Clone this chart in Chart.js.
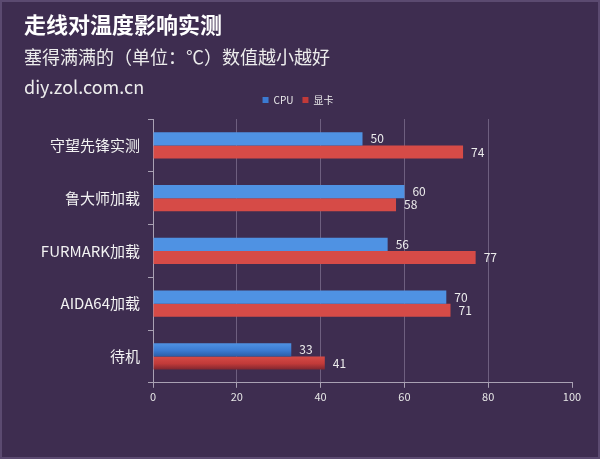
<!DOCTYPE html>
<html><head><meta charset="utf-8">
<script src="https://cdn.jsdelivr.net/npm/chart.js@4"></script>
<style>html,body{margin:0;padding:0;background:#3e2d50;}#wrap{width:600px;height:459px;}</style>
</head><body><div id="wrap"><canvas id="c" width="600" height="459"></canvas></div>
<script>
const categories = ['守望先锋实测', '鲁大师加载', 'FURMARK加载', 'AIDA64加载', '待机'];
const cpuValues = [50, 60, 56, 70, 33];
const gpuValues = [74, 58, 77, 71, 41];
const seriesNames = ['CPU', '显卡'];
const titleText = '走线对温度影响实测';
const subtitleLines = ['塞得满满的（单位：℃）数值越小越好', 'diy.zol.com.cn'];

const FONT = '"Noto Sans CJK SC", "Noto Sans", sans-serif';
const BG = '#3e2d50';

const gradStops = [
  ['#4f92e3', '#3b7bd2', '#2b5ea8'],
  ['#d64b47', '#c13a39', '#7e2630']
];

const gradientPlugin = {
  id: 'grad',
  beforeDatasetDraw(chart, args) {
    const meta = args.meta;
    const ctx = chart.ctx;
    const st = gradStops[args.index];
    meta.data.forEach(el => {
      const top = el.y - el.height / 2, bot = el.y + el.height / 2;
      const g = ctx.createLinearGradient(0, top, 0, bot);
      g.addColorStop(0, st[0]);
      g.addColorStop(0.55, st[1]);
      g.addColorStop(1, st[2]);
      el.options.backgroundColor = g;
    });
  }
};

const labelPlugin = {
  id: 'vlabels',
  afterDatasetsDraw(chart) {
    const ctx = chart.ctx;
    ctx.save();
    ctx.font = '12px ' + FONT;
    ctx.fillStyle = '#ececec';
    ctx.textBaseline = 'middle';
    ctx.textAlign = 'left';
    chart.data.datasets.forEach((ds, i) => {
      chart.getDatasetMeta(i).data.forEach((el, j) => {
        ctx.fillText(String(ds.data[j]), el.x + 8, el.y);
      });
    });
    ctx.restore();
  }
};

const headerPlugin = {
  id: 'header',
  beforeDraw(chart) {
    const ctx = chart.ctx;
    ctx.save();
    ctx.fillStyle = BG;
    ctx.fillRect(0, 0, chart.width, chart.height);
    ctx.strokeStyle = '#5b4a70';
    ctx.lineWidth = 2;
    ctx.strokeRect(1, 1, chart.width - 2, chart.height - 2);
    ctx.textBaseline = 'middle';
    ctx.textAlign = 'left';
    ctx.fillStyle = '#ffffff';
    ctx.font = 'bold 22px ' + FONT;
    ctx.fillText(titleText, 24, 25);
    ctx.fillStyle = '#ececec';
    ctx.font = '18px ' + FONT;
    ctx.fillText(subtitleLines[0], 24, 57);
    ctx.fillText(subtitleLines[1], 24, 87);
    ctx.restore();
  }
};

new Chart(document.getElementById('c'), {
  type: 'bar',
  data: {
    labels: categories,
    datasets: [
      { label: seriesNames[0], data: cpuValues, backgroundColor: '#3b7bd2' },
      { label: seriesNames[1], data: gpuValues, backgroundColor: '#c13a39' }
    ]
  },
  options: {
    indexAxis: 'y',
    responsive: false,
    animation: false,
    devicePixelRatio: 1,
    categoryPercentage: 0.5,
    barPercentage: 1.0,
    layout: { padding: { top: 86, right: 28, bottom: 54, left: 24 } },
    plugins: {
      legend: {
        display: true,
        position: 'top',
        align: 'center',
        labels: {
          color: '#ececec',
          font: { family: FONT, size: 10 },
          boxWidth: 6,
          boxHeight: 6,
          padding: 9
        }
      },
      tooltip: { enabled: false },
      title: { display: false }
    },
    scales: {
      x: {
        min: 0, max: 100,
        ticks: { stepSize: 20, color: '#e6e6e6', font: { family: FONT, size: 11 }, padding: 2 },
        border: { display: true, color: '#a9a1b3', width: 1 },
        grid: {
          display: true,
          drawOnChartArea: true,
          drawTicks: true,
          tickLength: 5,
          tickColor: '#a9a1b3',
          color: ctx => (ctx.tick && (ctx.tick.value === 0 || ctx.tick.value === 100)) ? 'rgba(0,0,0,0)' : 'rgba(200,190,215,0.35)',
          borderDash: [4, 4],
          tickBorderDash: []
        }
      },
      xTopSpacer: {
        type: 'linear',
        position: 'top',
        display: true,
        min: 0, max: 100,
        ticks: { display: false },
        border: { display: false },
        grid: { display: false, drawTicks: false },
        afterFit(scale) { scale.height = 4; }
      },
      y: {
        afterFit(scale) { scale.width = 129; },
        ticks: { color: '#f2f2f2', font: { family: FONT, size: 15 }, padding: 8 },
        border: { display: true, color: '#a9a1b3', width: 1 },
        grid: {
          display: true,
          offset: true,
          drawOnChartArea: false,
          drawTicks: true,
          tickLength: 5,
          tickColor: '#a9a1b3'
        }
      }
    }
  },
  plugins: [headerPlugin, gradientPlugin, labelPlugin]
});
</script>
</body></html>
